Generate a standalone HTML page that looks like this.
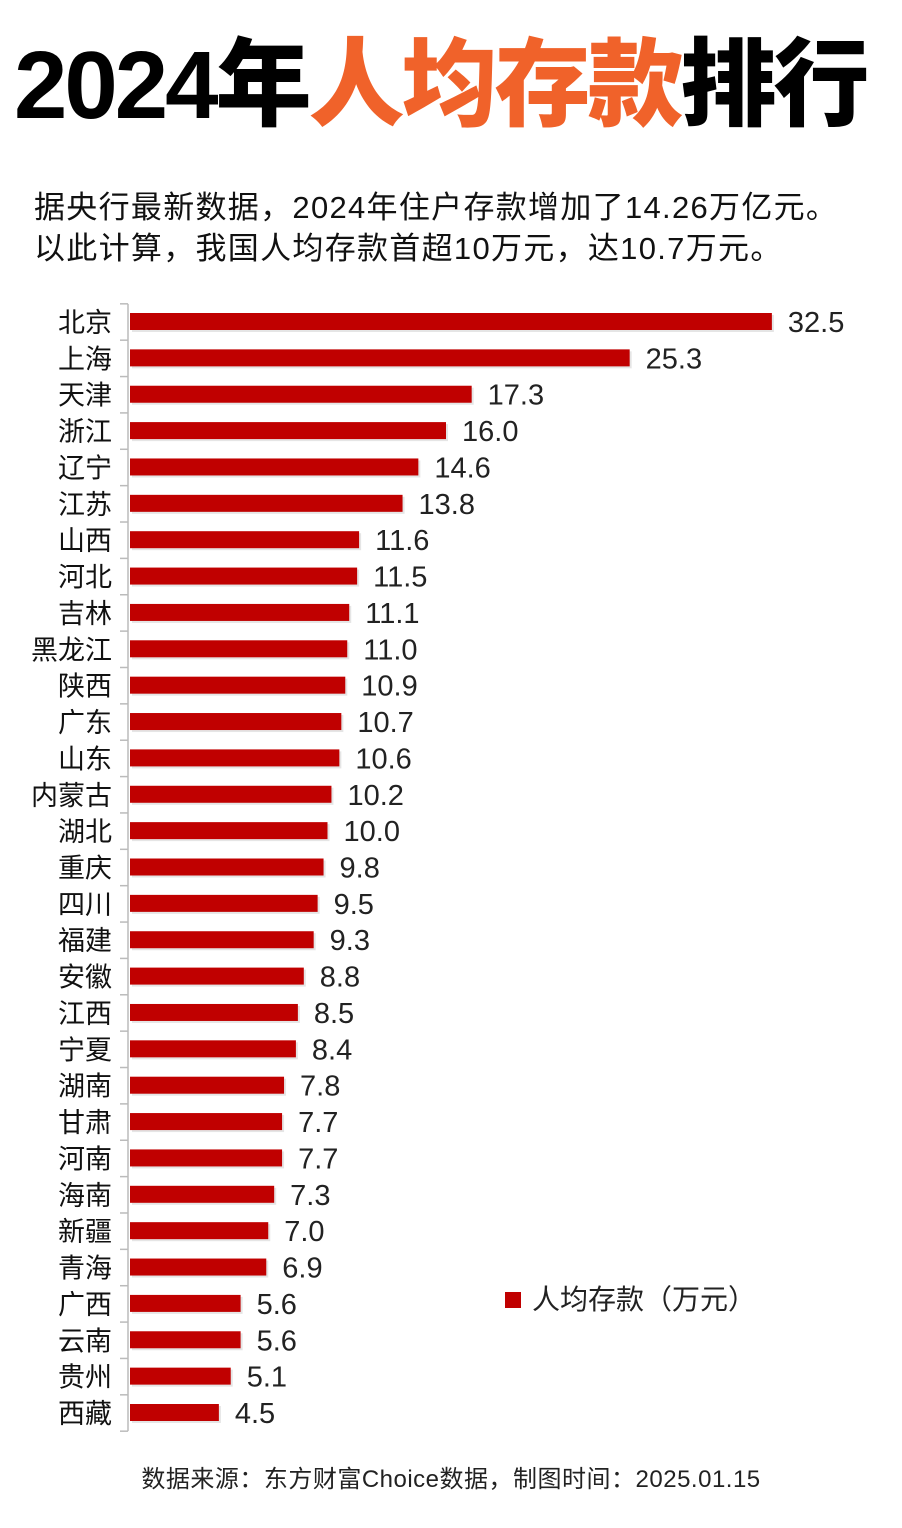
<!DOCTYPE html>
<html><head><meta charset="utf-8">
<style>
body{margin:0;background:#fff;width:902px;height:1528px;overflow:hidden;font-family:"Liberation Sans","Noto Sans CJK SC",sans-serif;}
#title{position:absolute;left:14px;top:26px;font-size:96px;font-weight:900;letter-spacing:-3px;line-height:120px;white-space:nowrap;color:#000;}
#title span{color:#f0622a;}
.sub{position:absolute;left:34px;font-size:31px;letter-spacing:1.3px;color:#111;white-space:nowrap;}
svg{position:absolute;left:0;top:0;}
</style></head><body>
<div id="title">2024年<span>人均存款</span>排行</div>
<div class="sub" style="top:182px">据央行最新数据，2024年住户存款增加了14.26万亿元。</div>
<div class="sub" style="top:223px">以此计算，我国人均存款首超10万元，达10.7万元。</div>
<svg id="chart" width="902" height="1528"></svg>
<script>
const categories=["北京","上海","天津","浙江","辽宁","江苏","山西","河北","吉林","黑龙江","陕西","广东","山东","内蒙古","湖北","重庆","四川","福建","安徽","江西","宁夏","湖南","甘肃","河南","海南","新疆","青海","广西","云南","贵州","西藏"];
const values=[32.5,25.3,17.3,16.0,14.6,13.8,11.6,11.5,11.1,11.0,10.9,10.7,10.6,10.2,10.0,9.8,9.5,9.3,8.8,8.5,8.4,7.8,7.7,7.7,7.3,7.0,6.9,5.6,5.6,5.1,4.5];
const ns="http://www.w3.org/2000/svg";
const svg=document.getElementById('chart');
const x0=130, xs=v=>x0+v*19.75;
const y0=322, step=(1413-322)/30, yc=i=>y0+i*step;
function mk(t,a){const e=document.createElementNS(ns,t);for(const k in a)e.setAttribute(k,a[k]);svg.appendChild(e);return e;}
const ax=mk('line',{x1:128,x2:128,y1:yc(0)-step/2,y2:yc(30)+step/2,stroke:'#bbb','stroke-width':1.5});


for(let i=0;i<=31;i++){const t=mk('line',{x1:120,x2:128,y1:yc(0)-step/2+i*step,y2:yc(0)-step/2+i*step,stroke:'#bbb','stroke-width':1.5});

}
categories.forEach((c,i)=>{
const y=yc(i);
const sh=mk('rect',{x:x0+2,y:y-7,width:xs(values[i])-x0,height:17,fill:'#ccc',opacity:0.5});


const b=mk('rect',{x:x0,y:y-9,width:xs(values[i])-x0,height:17,fill:'#c00000'});


const l=mk('text',{x:112,y:y+10,'text-anchor':'end','font-size':27,fill:'#111'});l.textContent=c;


const v=mk('text',{x:xs(values[i])+16,y:y+10,'font-size':29,fill:'#222'});v.textContent=values[i].toFixed(1);


});
const lg=mk('rect',{x:505,y:1292,width:16,height:16,fill:'#c00000'});


const lt=mk('text',{x:532,y:1309,'font-size':28,fill:'#222'});lt.textContent='人均存款（万元）';


const src=mk('text',{x:451,y:1487,'font-size':24,fill:'#222','text-anchor':'middle','letter-spacing':0.5});src.textContent='数据来源：东方财富Choice数据，制图时间：2025.01.15';


</script>
</body></html>
